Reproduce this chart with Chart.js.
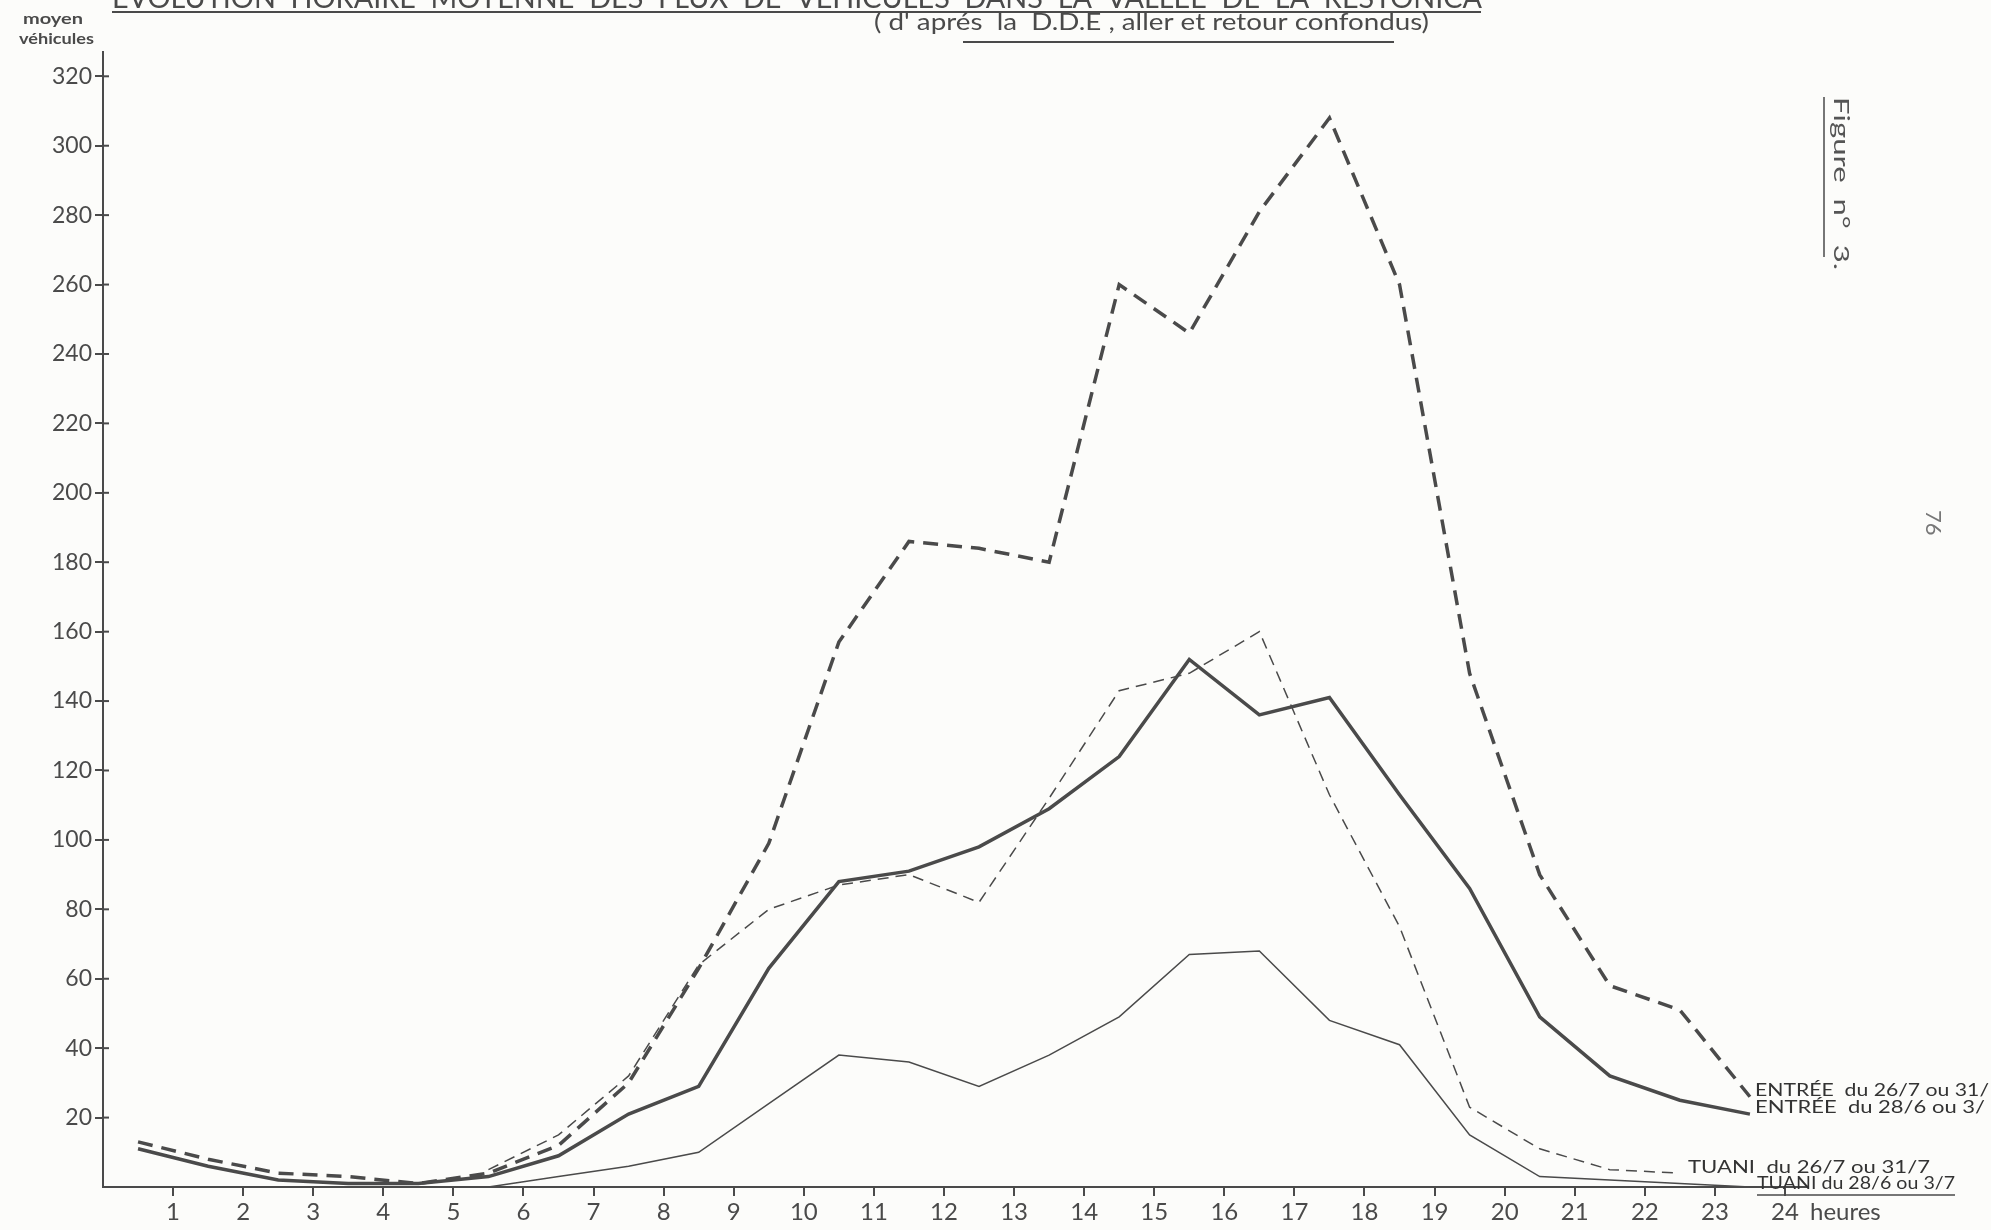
<!DOCTYPE html>
<html>
<head>
<meta charset="utf-8">
<script src="https://cdn.jsdelivr.net/npm/chart.js@4.4.1/dist/chart.umd.min.js"></script>
<style>
  html, body { margin: 0; background: #fcfcfa; }
</style>
</head>
<body>
<canvas id="flux_chart" width="1991" height="1230"></canvas>
<script>
const ink = '#4a4a4a';

// hour of the day (points sit between the hour ticks)
const hours = [0.5, 1.5, 2.5, 3.5, 4.5, 5.5, 6.5, 7.5, 8.5, 9.5, 10.5, 11.5,
               12.5, 13.5, 14.5, 15.5, 16.5, 17.5, 18.5, 19.5, 20.5, 21.5, 22.5, 23.5];

// mean vehicles per hour
const entree2607 = [13, 8, 4, 3, 1, 4, 12, 30, 63, 99, 157, 186, 184, 180, 260, 246, 281, 308, 260, 148, 90, 58, 51, 26];
const entree2806 = [11, 6, 2, 1, 1, 3, 9, 21, 29, 63, 88, 91, 98, 109, 124, 152, 136, 141, 113, 86, 49, 32, 25, 21];
const tuani2607 = [null, null, null, null, null, 5, 15, 32, 64, 80, 87, 90, 82, 112, 143, 148, 160, 113, 75, 23, 11, 5, 4, null];
const tuani2806 = [null, null, null, null, null, 0, 3, 6, 10, 24, 38, 36, 29, 38, 49, 67, 68, 48, 41, 15, 3, 2, 1, 0];

const yTicks = [20, 40, 60, 80, 100, 120, 140, 160, 180, 200, 220, 240, 260, 280, 300, 320];
const xTicks = [1, 2, 3, 4, 5, 6, 7, 8, 9, 10, 11, 12, 13, 14, 15, 16, 17, 18, 19, 20, 21, 22, 23, 24];

const pts = vals => hours.map((h, i) => ({ x: h, y: vals[i] }));

// fit a string into a given width
function fitText(c, txt, x, y, w) {
  const m = c.measureText(txt).width;
  c.save();
  c.translate(x, y);
  c.scale(w / m, 1);
  c.fillText(txt, 0, 0);
  c.restore();
}

const notes = {
  id: 'notes',
  afterDraw(chart) {
    const c = chart.ctx;
    const y = chart.scales.y;
    c.save();
    c.fillStyle = ink;
    c.strokeStyle = ink;

    // y ticks cross the axis
    c.lineWidth = 2;
    yTicks.forEach(v => {
      const py = y.getPixelForValue(v);
      c.beginPath(); c.moveTo(y.right, py); c.lineTo(y.right + 6, py); c.stroke();
    });

    // title, cut off by the top of the page
    c.textAlign = 'left';
    c.textBaseline = 'alphabetic';
    c.font = '28px Lato';
    fitText(c, 'EVOLUTION  HORAIRE  MOYENNE  DES  FLUX  DE  VEHICULES  DANS  LA  VALLEE  DE  LA  RESTONICA', 112, 8, 1370);
    c.beginPath(); c.moveTo(112, 12); c.lineTo(1481, 12); c.stroke();

    c.font = '23px Lato';
    fitText(c, "( d' aprés  la  D.D.E , aller et retour confondus)", 874, 30, 555);
    c.beginPath(); c.moveTo(963, 42); c.lineTo(1394, 42); c.stroke();

    // y axis caption
    c.font = 'bold 16px Lato';
    fitText(c, 'moyen', 23, 24, 60);
    fitText(c, 'véhicules', 19, 44, 75);

    // line labels
    c.textBaseline = 'middle';
    c.fillStyle = '#333';
    c.font = '18px Lato';
    fitText(c, 'ENTRÉE  du 26/7 ou 31/', 1755, 1090, 234);
    fitText(c, 'ENTRÉE  du 28/6 ou 3/', 1755, 1107, 230);
    fitText(c, 'TUANI  du 26/7 ou 31/7', 1688, 1167, 242);
    fitText(c, 'TUANI du 28/6 ou 3/7', 1757, 1183, 198);
    c.lineWidth = 1.5;
    c.beginPath(); c.moveTo(1757, 1195); c.lineTo(1955, 1195); c.stroke();

    c.font = '24px Lato';
    c.fillStyle = ink;
    c.fillText('heures', 1810, 1212);

    // side notes, turned a quarter
    c.save();
    c.translate(1841, 97);
    c.rotate(Math.PI / 2);
    c.font = '22px Lato';
    c.fillStyle = '#555';
    fitText(c, 'Figure  n°  3.', 0, 0, 173);
    c.lineWidth = 1.5;
    c.beginPath(); c.moveTo(0, 17); c.lineTo(160, 17); c.stroke();
    c.restore();

    c.save();
    c.translate(1933, 510);
    c.rotate(Math.PI / 2);
    c.font = '22px Lato';
    c.fillStyle = '#777';
    c.fillText('76', 0, 0);
    c.restore();

    c.restore();
  }
};

new Chart(document.querySelector('#flux_chart'), {
  type: 'line',
  data: {
    datasets: [
      { label: 'ENTRÉE du 26/7 ou 31/7', data: pts(entree2607), borderColor: ink, borderWidth: 3.5, borderDash: [15, 9] },
      { label: 'ENTRÉE du 28/6 ou 3/7', data: pts(entree2806), borderColor: ink, borderWidth: 3.5 },
      { label: 'TUANI du 26/7 ou 31/7', data: pts(tuani2607), borderColor: ink, borderWidth: 1.5, borderDash: [11, 7] },
      { label: 'TUANI du 28/6 ou 3/7', data: pts(tuani2806), borderColor: ink, borderWidth: 1.5 }
    ]
  },
  options: {
    responsive: false,
    animation: false,
    devicePixelRatio: 1,
    layout: { padding: { top: 52, right: 185, left: 0, bottom: 0 } },
    elements: { point: { radius: 0 }, line: { tension: 0, borderCapStyle: 'butt' } },
    plugins: { legend: false, tooltip: { enabled: false } },
    scales: {
      x: {
        type: 'linear',
        min: 0,
        max: 24.3,
        afterFit: s => { s.height = 43; },
        afterBuildTicks: s => { s.ticks = xTicks.map(v => ({ value: v })); },
        border: { color: ink, width: 2 },
        grid: { drawOnChartArea: false, tickLength: 9, color: ink, lineWidth: 2 },
        ticks: { color: ink, padding: 2, font: { family: 'Lato', size: 24 } }
      },
      y: {
        min: 0,
        max: 327,
        afterFit: s => { s.width = 103; },
        afterBuildTicks: s => { s.ticks = yTicks.map(v => ({ value: v })); },
        border: { color: ink, width: 2 },
        grid: { drawOnChartArea: false, tickLength: 8, color: ink, lineWidth: 2 },
        ticks: { color: ink, padding: 3, font: { family: 'Lato', size: 23 } }
      }
    }
  },
  plugins: [notes]
});
</script>
</body>
</html>
